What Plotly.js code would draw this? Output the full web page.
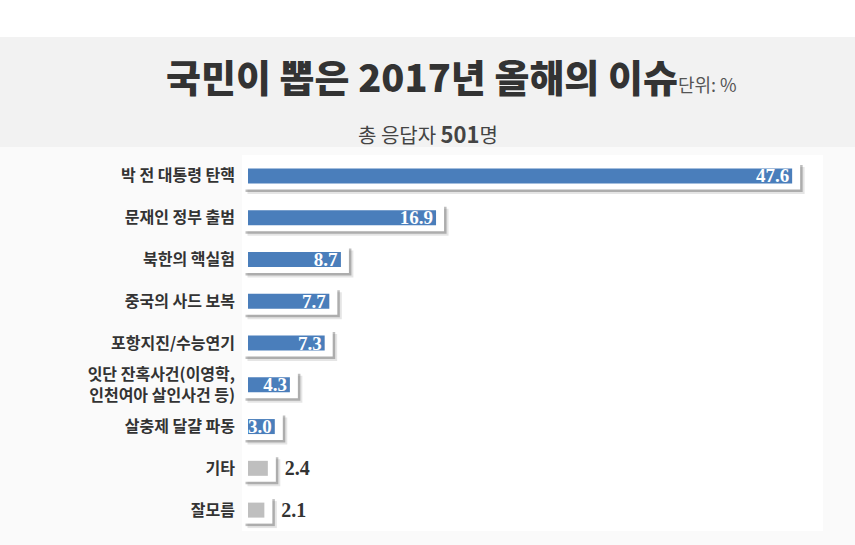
<!DOCTYPE html>
<html>
<head>
<meta charset="utf-8">
<script src="https://cdn.plot.ly/plotly-3.0.1.min.js"></script>
<style>
  html, body { margin: 0; padding: 0; background: #fafafa; }
  #chart { width: 855px; height: 545px; }
</style>
</head>
<body>
<div id="chart"></div>
<script>
// data
const categories = [
    "박 전 대통령 탄핵",
    "문재인 정부 출범",
    "북한의 핵실험",
    "중국의 사드 보복",
    "포항지진/수능연기",
    "잇단 잔혹사건(이영학,<br>인천여아 살인사건 등)",
    "살충제 달걀 파동",
    "기타",
    "잘모름"
];
const values = [47.6, 16.9, 8.7, 7.7, 7.3, 4.3, 3.0, 2.4, 2.1];
const highlighted = [true, true, true, true, true, true, true, false, false];
const valueLabels = ["47.6", "16.9", "8.7", "7.7", "7.3", "4.3", "3.0", "2.4", "2.1"];

const W = 855, H = 545;
const PLOT_L = 242, PLOT_R = 823, PLOT_T = 155, PLOT_B = 531;
const X_RANGE = [0.172, 50.26];

const pxX = (PLOT_R - PLOT_L) / (X_RANGE[1] - X_RANGE[0]);
const pxY = (PLOT_B - PLOT_T) / categories.length;
const ux = px => px / pxX;   // pixels -> x units
const uy = px => px / pxY;   // pixels -> category units

const BLUE = "#4a7ebb";
const GREY = "#bfbfbf";
const KR = "'Noto Sans CJK KR', 'Noto Sans', sans-serif";
const SERIF = "'Liberation Serif', 'DejaVu Serif', serif";

// card geometry (style only, in px)
const cardLeft = X_RANGE[0] + ux(1);
const barLeft = X_RANGE[0] + ux(6);
const cardPadRight = ux(8);
const cardW = uy(27);
const barW = uy(15);

const cardEnds = values.map(v => v + cardPadRight - cardLeft);

function shadow(dx, dy, color) {
    return {
        type: "bar", orientation: "h",
        y: categories, x: cardEnds,
        base: cardLeft + ux(dx),
        width: cardW,
        offset: -cardW / 2 + uy(dy),
        marker: { color: color, line: { width: 0 } },
        hoverinfo: "skip", showlegend: false
    };
}

const traces = [
    shadow(4.5, 4.5, "rgba(0,0,0,0.10)"),
    shadow(2.5, 2.5, "rgba(70,70,70,0.35)"),
    {   // white card
        type: "bar", orientation: "h",
        y: categories, x: cardEnds, base: cardLeft,
        width: cardW,
        marker: { color: "#ffffff", line: { width: 0 } },
        hoverinfo: "skip", showlegend: false
    },
    {   // bars
        type: "bar", orientation: "h",
        y: categories,
        x: values.map(v => v - barLeft),
        base: barLeft,
        width: barW,
        marker: { color: highlighted.map(h => h ? BLUE : GREY), line: { width: 0 } },
        text: valueLabels.map((t, i) => highlighted[i] ? t : ""),
        textposition: "inside",
        insidetextanchor: "end",
        constraintext: "none",
        cliponaxis: false,
        insidetextfont: { family: SERIF, size: 19, color: "#ffffff", weight: "bold" },
        hoverinfo: "skip", showlegend: false
    },
    {   // carrier for the labels outside the small bars
        type: "bar", orientation: "h",
        y: categories,
        x: cardEnds.map(e => e + ux(6)),
        base: cardLeft,
        width: cardW,
        marker: { color: "rgba(0,0,0,0)" },
        text: valueLabels.map((t, i) => highlighted[i] ? "" : t),
        textposition: "outside",
        cliponaxis: false,
        outsidetextfont: { family: SERIF, size: 20, color: "#333333", weight: "bold" },
        hoverinfo: "skip", showlegend: false
    }
];

const layout = {
    width: W, height: H,
    margin: { l: 0, r: 0, t: 0, b: 0, pad: 0 },
    paper_bgcolor: "#fafafa",
    plot_bgcolor: "#ffffff",
    barmode: "overlay",
    showlegend: false,
    font: { family: KR, color: "#333333" },
    xaxis: {
        domain: [PLOT_L / W, PLOT_R / W],
        range: X_RANGE,
        visible: false,
        fixedrange: true
    },
    yaxis: {
        domain: [1 - PLOT_B / H, 1 - PLOT_T / H],
        type: "category",
        categoryorder: "array",
        categoryarray: categories,
        range: [categories.length - 0.5, -0.5],
        showgrid: false, zeroline: false, showline: false,
        ticks: "",
        ticklabelstandoff: 6,
        tickfont: { family: KR, size: 16, color: "#333333", weight: "bold" },
        fixedrange: true
    },
    shapes: [
        {   // white strip on top
            type: "rect", xref: "paper", yref: "paper", layer: "below",
            x0: 0, x1: 1, y0: 1 - 37 / H, y1: 1,
            fillcolor: "#ffffff", line: { width: 0 }
        },
        {   // grey title band
            type: "rect", xref: "paper", yref: "paper", layer: "below",
            x0: 0, x1: 1, y0: 1 - 147 / H, y1: 1 - 37 / H,
            fillcolor: "#f2f2f2", line: { width: 0 }
        }
    ],
    annotations: [
        {
            xref: "paper", yref: "paper",
            x: 451 / W, y: 1 - 75 / H,
            xanchor: "center", yanchor: "middle",
            showarrow: false,
            text: "국민이 뽑은 2017년 올해의 이슈<span style='font-size:18px;font-weight:400;color:#555'>단위: %</span>",
            font: { family: KR, size: 38, color: "#333333", weight: 900 }
        },
        {
            xref: "paper", yref: "paper",
            x: 428 / W, y: 1 - 133 / H,
            xanchor: "center", yanchor: "middle",
            showarrow: false,
            text: "총 응답자 <span style='font-size:22px;font-weight:700'>501</span>명",
            font: { family: KR, size: 20, color: "#444444" }
        }
    ]
};

Plotly.newPlot("chart", traces, layout, { displayModeBar: false, staticPlot: true });
</script>
</body>
</html>
